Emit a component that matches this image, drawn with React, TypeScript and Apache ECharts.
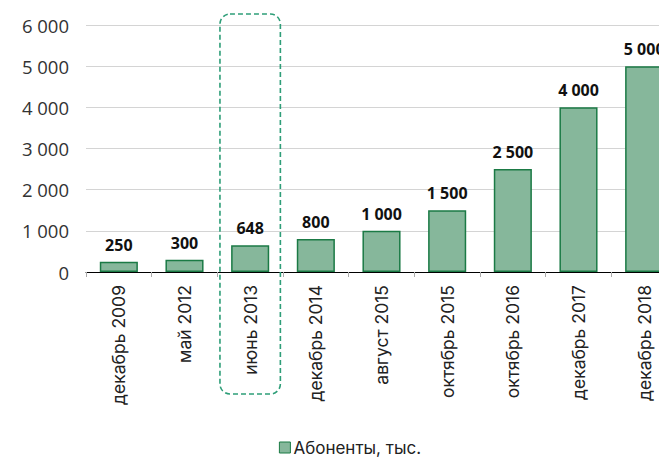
import React, { useEffect, useRef } from "react";
import * as echarts from "echarts";

const categories = [
  "декабрь 2009",
  "май 2012",
  "июнь 2013",
  "декабрь 2014",
  "август 2015",
  "октябрь 2015",
  "октябрь 2016",
  "декабрь 2017",
  "декабрь 2018",
];
const subscribers = [250, 300, 648, 800, 1000, 1500, 2500, 4000, 5000];
const seriesName = "Абоненты, тыс.";
const highlighted = "июнь 2013";

const FONT = "Inter, 'Open Sans', sans-serif";
// Tabular digits for numeric labels
const NUM_FONT = "'Open Sans', 'Noto Sans', sans-serif";
const fmt = (v: number) => String(v).replace(/\B(?=(\d{3})+(?!\d))/g, " ");

// The chart canvas is wider than the visible frame; the right edge is cropped.
const CANVAS_W = 700;
const VIEW_W = 659;
const VIEW_H = 457;

export default function App() {
  const ref = useRef<HTMLDivElement>(null);

  useEffect(() => {
    const chart = echarts.init(ref.current!, null, { renderer: "svg" });
    chart.setOption({
      animation: false,
      textStyle: { fontFamily: FONT },
      grid: { left: 86, right: 23, top: 25, bottom: 185, containLabel: false },
      legend: {
        top: 439,
        left: "center",
        padding: 0,
        icon: "rect",
        itemWidth: 11,
        itemHeight: 11,
        itemGap: 4,
        itemStyle: { borderColor: "#1b7a45", borderWidth: 1 },
        textStyle: { fontSize: 17, color: "#222", fontFamily: FONT, padding: [0, 0, 0, -2] },
        data: [seriesName],
      },
      xAxis: {
        type: "category",
        data: categories,
        axisLine: { lineStyle: { color: "#000", width: 1 } },
        axisTick: { show: true, length: 5, lineStyle: { color: "#aaa" } },
        axisLabel: {
          rotate: 90,
          fontSize: 17.5,
          color: "#222",
          margin: 13,
          interval: 0,
        },
      },
      yAxis: {
        type: "value",
        min: 0,
        max: 6000,
        interval: 1000,
        axisLine: { show: false },
        axisTick: { show: false },
        splitLine: { lineStyle: { color: "#d4d4d4", width: 1 } },
        axisLabel: {
          fontSize: 18.5,
          fontFamily: NUM_FONT,
          color: "#333",
          margin: 17,
          formatter: (v: number) => fmt(v),
        },
      },
      series: [
        {
          name: seriesName,
          type: "bar",
          data: subscribers,
          barWidth: "58%",
          itemStyle: { color: "#86b79b", borderColor: "#1b7a45", borderWidth: 1.5 },
          label: {
            show: true,
            position: "top",
            distance: 9,
            fontSize: 16,
            fontFamily: NUM_FONT,
            fontWeight: "bold",
            color: "#111",
            formatter: (p: any) => fmt(p.value),
          },
        },
      ],
    });

    // Dashed rounded frame around the highlighted category column
    const idx = categories.indexOf(highlighted);
    const c = chart.convertToPixel({ xAxisIndex: 0 }, idx) as number;
    const c2 = chart.convertToPixel({ xAxisIndex: 0 }, idx + 1) as number;
    const w = (c2 - c) * 0.92;
    chart.setOption({
      graphic: [
        {
          type: "rect",
          shape: { x: c - w / 2, y: 14, width: w, height: 380, r: 10 },
          style: {
            fill: "none",
            stroke: "#2e9e78",
            lineWidth: 1.6,
            lineDash: [5, 3],
          },
          z: 100,
        },
      ],
    });

    return () => chart.dispose();
  }, []);

  return (
    <div
      style={{
        position: "fixed",
        left: 0,
        top: 0,
        width: VIEW_W,
        height: VIEW_H,
        overflow: "hidden",
        background: "#fff",
      }}
    >
      <div ref={ref} style={{ width: CANVAS_W, height: VIEW_H }} />
    </div>
  );
}
